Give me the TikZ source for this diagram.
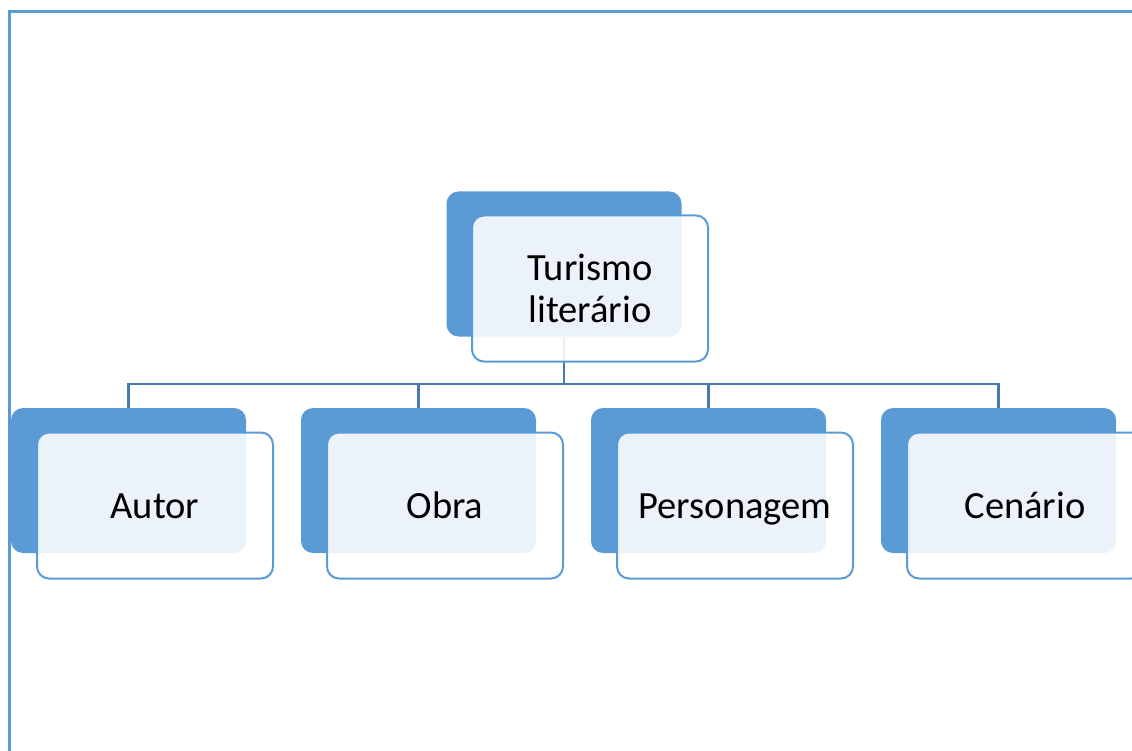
\documentclass[tikz,border=0pt]{standalone}
\usepackage{fontspec}
\setmainfont{Carlito}
\definecolor{ofblue}{RGB}{91,155,213}
\definecolor{linkblue}{RGB}{72,122,178}

\begin{document}
\begin{tikzpicture}[x=1pt,y=-1pt,
  backbox/.style={fill=ofblue, rounded corners=12pt, minimum width=235pt, minimum height=145pt, inner sep=0pt},
  frontbox/.style={draw=ofblue, line width=2pt, fill=white, fill opacity=0.88, text opacity=1, rounded corners=12pt,
    minimum width=236pt, minimum height=146pt, inner sep=0pt, align=center, font=\fontsize{38.5}{42}\selectfont},
  leafbox/.style={frontbox, text height=26pt, text depth=0pt},
  link/.style={draw=linkblue, line width=2.5pt}]
\useasboundingbox (0,0) rectangle (1132,751);

% frame
\draw[ofblue, line width=3pt] (9.5,751) -- (9.5,12) -- (1132,12);

% back boxes
\node[backbox] (turb) at (564,264) {};
\node[backbox] (autorb) at (128.5,480.5) {};
\node[backbox] (obrab) at (128.5+290,480.5) {};
\node[backbox] (persb) at (128.5+580,480.5) {};
\node[backbox] (cenb) at (128.5+870,480.5) {};

% links
\coordinate (bus) at (564,384);
\path[link] (turb.south) -- (bus);
\path[link] (autorb.north) |- (bus);
\path[link] (obrab.north) |- (bus);
\path[link] (persb.north) |- (bus);
\path[link] (cenb.north) |- (bus);

% front boxes
\node[frontbox] (tur) at (590,288.5) {Turismo\\literário};
\node[leafbox] (autor) at (155,505.5) {Autor};
\node[leafbox] (obra) at (155+290,505.5) {Obra};
\node[leafbox] (pers) at (155+580,505.5) {Personagem};
\node[leafbox] (cen) at (155+870,505.5) {Cenário};
\end{tikzpicture}
\end{document}
